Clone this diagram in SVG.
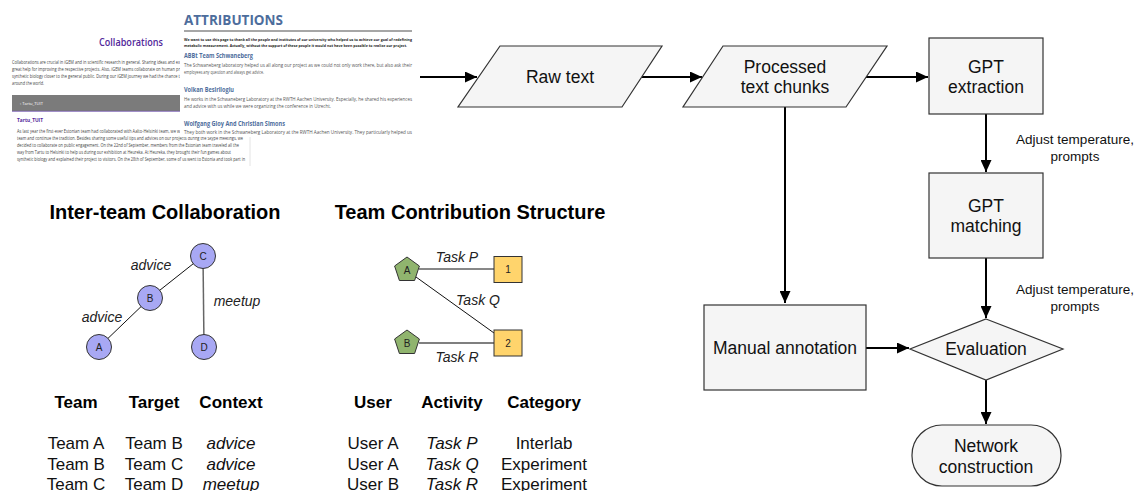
<svg xmlns="http://www.w3.org/2000/svg" width="1136" height="491" viewBox="0 0 1136 491">
<style>
.pg{font-family:"Open Sans","Liberation Sans",sans-serif}
.pb{font-size:4.6px;fill:#444}
.ab{font-size:4.8px;fill:#555}
.ah{font-size:6.2px;font-weight:bold;fill:#4d6d9c}
.fl{font-family:"Liberation Sans",Arial,sans-serif;font-size:17.5px;fill:#111;text-anchor:middle}
.lab{font-family:"Liberation Sans",Arial,sans-serif;font-size:13.5px;fill:#111;text-anchor:middle}
.box{fill:#f5f5f5;stroke:#333;stroke-width:1.2}
.conn{stroke:#000;stroke-width:2;fill:none;marker-end:url(#ah)}
.t{font-family:"Liberation Sans",Arial,sans-serif;fill:#000;text-anchor:middle}
.ttl{font-size:20px;font-weight:bold}
.hd{font-size:17px;font-weight:bold}
.row{font-size:17px;fill:#111}
.it{font-style:italic}
.el{font-family:"Liberation Sans",Arial,sans-serif;font-size:14px;font-style:italic;fill:#222;text-anchor:middle}
.nl{font-family:"Liberation Sans",Arial,sans-serif;font-size:10px;fill:#222;text-anchor:middle}
.cir{fill:#a8a8f4;stroke:#333;stroke-width:1}
.pent{fill:#90b46e;stroke:#333;stroke-width:1}
.sq{fill:#ffd46c;stroke:#333;stroke-width:1}
</style>
<defs>
<marker id="ah" markerUnits="userSpaceOnUse" markerWidth="12" markerHeight="11" viewBox="0 0 12 11" refX="12" refY="5.5" orient="auto">
<path d="M0,0 L12,5.5 L0,11 z" fill="#000"/>
</marker>
</defs>
<rect width="1136" height="491" fill="#fff"/>

<!-- Screenshot page 1: Collaborations -->
<g id="page-collaborations" class="pg">
<rect x="0" y="0" width="250" height="166" fill="#fff"/>
<line x1="250" y1="136" x2="250" y2="166" stroke="#ddd" stroke-width="0.8"/>
<text x="131" y="46" font-size="10.5" font-weight="600" fill="#52289a" text-anchor="middle" textLength="64" lengthAdjust="spacingAndGlyphs">Collaborations</text>
<text class="pb" x="12" y="64" textLength="168" lengthAdjust="spacingAndGlyphs">Collaborations are crucial in iGEM and in scientific research in general. Sharing ideas and ex</text>
<text class="pb" x="12" y="71" textLength="168" lengthAdjust="spacingAndGlyphs">great help for improving the respective projects. Also, iGEM teams collaborate on human pr</text>
<text class="pb" x="12" y="78" textLength="168" lengthAdjust="spacingAndGlyphs">synthetic biology closer to the general public. During our iGEM journey we had the chance t</text>
<text class="pb" x="12" y="85" textLength="32" lengthAdjust="spacingAndGlyphs">around the world.</text>
<rect x="12" y="95" width="168" height="16" fill="#7b7b7b"/>
<line x1="12" y1="111.3" x2="180" y2="111.3" stroke="#6b4fa8" stroke-width="0.8"/>
<text x="20" y="104.5" font-size="3.6" fill="#fff" textLength="23" lengthAdjust="spacingAndGlyphs">› Tartu_TUIT</text>
<text x="17" y="122" font-size="5.6" fill="#52289a" font-weight="bold" textLength="26" lengthAdjust="spacingAndGlyphs">Tartu_TUIT</text>
<text class="pb" x="17" y="132.5" textLength="163" lengthAdjust="spacingAndGlyphs">As last year the first-ever Estonian team had collaborated with Aalto-Helsinki team, we w</text>
<text class="pb" x="17" y="140" textLength="226" lengthAdjust="spacingAndGlyphs">team and continue the tradition. Besides sharing some useful tips and advices on our projects during the Skype meetings, we</text>
<text class="pb" x="17" y="147" textLength="222" lengthAdjust="spacingAndGlyphs">decided to collaborate on public engagement. On the 22nd of September, members from the Estonian team traveled all the</text>
<text class="pb" x="17" y="154" textLength="214" lengthAdjust="spacingAndGlyphs">way from Tartu to Helsinki to help us during our exhibition at Heureka. At Heureka, they brought their fun games about</text>
<text class="pb" x="17" y="161" textLength="228" lengthAdjust="spacingAndGlyphs">synthetic biology and explained their project to visitors. On the 28th of September, some of us went to Estonia and took part in</text>
</g>

<!-- Screenshot page 2: Attributions -->
<g id="page-attributions" class="pg">
<rect x="180" y="0" width="242" height="137" fill="#fff"/>
<text x="184" y="25" font-size="14" font-weight="bold" fill="#4d6d9c" textLength="99" lengthAdjust="spacingAndGlyphs">ATTRIBUTIONS</text>
<line x1="184" y1="31" x2="412" y2="31" stroke="#888" stroke-width="1.4"/>
<text x="184" y="40.5" font-size="4.2" font-weight="bold" fill="#222" textLength="228" lengthAdjust="spacingAndGlyphs">We want to use this page to thank all the people and institutes of our university who helped us to achieve our goal of redefining</text>
<text x="184" y="46.5" font-size="4.2" font-weight="bold" fill="#222" textLength="223" lengthAdjust="spacingAndGlyphs">metabolic measurement. Actually, without the support of these people it would not have been possible to realize our project.</text>
<text class="ah" x="184" y="57.5" textLength="69" lengthAdjust="spacingAndGlyphs">ABBt Team Schwaneberg</text>
<text class="ab" x="184" y="67" textLength="228" lengthAdjust="spacingAndGlyphs">The Schwaneberg laboratory helped us all along our project as we could not only work there, but also ask their</text>
<text class="ab" x="184" y="74" textLength="80" lengthAdjust="spacingAndGlyphs">employees any question and always get advice.</text>
<text class="ah" x="184" y="91.5" textLength="50" lengthAdjust="spacingAndGlyphs">Volkan Besirlioglu</text>
<text class="ab" x="184" y="100.5" textLength="228" lengthAdjust="spacingAndGlyphs">He works in the Schwaneberg Laboratory at the RWTH Aachen University. Especially, he shared his experiences</text>
<text class="ab" x="184" y="108" textLength="147" lengthAdjust="spacingAndGlyphs">and advice with us while we were organizing the conference in Utrecht.</text>
<text class="ah" x="184" y="125.5" textLength="101" lengthAdjust="spacingAndGlyphs">Wolfgang Gloy And Christian Simons</text>
<text class="ab" x="184" y="134" textLength="228" lengthAdjust="spacingAndGlyphs">They both work in the Schwaneberg Laboratory at the RWTH Aachen University. They particularly helped us</text>
</g>

<!-- Inter-team Collaboration -->
<g id="inter-team">
<text class="t ttl" x="165" y="219">Inter-team Collaboration</text>
<g id="it-edges">
<line x1="150" y1="298" x2="203" y2="256" stroke="#111" stroke-width="1"/>
<line x1="99" y1="347" x2="150" y2="298" stroke="#111" stroke-width="1"/>
<line x1="203" y1="256" x2="204" y2="347" stroke="#666" stroke-width="1.5"/>
</g>
<text class="el" x="151" y="270">advice</text>
<text class="el" x="102" y="322">advice</text>
<text class="el" x="237" y="306">meetup</text>
<g id="node-C"><circle class="cir" cx="203" cy="256" r="12.5"/><text class="nl" x="203" y="259.5">C</text></g>
<g id="node-B"><circle class="cir" cx="150" cy="298" r="12.5"/><text class="nl" x="150" y="301.5">B</text></g>
<g id="node-A"><circle class="cir" cx="99" cy="347" r="12.5"/><text class="nl" x="99" y="350.5">A</text></g>
<g id="node-D"><circle class="cir" cx="204" cy="347" r="12.5"/><text class="nl" x="204" y="350.5">D</text></g>
<text class="t hd" x="76" y="408">Team</text>
<text class="t hd" x="154" y="408">Target</text>
<text class="t hd" x="231" y="408">Context</text>
<text class="t row" x="76" y="449">Team A</text>
<text class="t row" x="154" y="449">Team B</text>
<text class="t row it" x="231" y="449">advice</text>
<text class="t row" x="76" y="470">Team B</text>
<text class="t row" x="154" y="470">Team C</text>
<text class="t row it" x="231" y="470">advice</text>
<text class="t row" x="76" y="490">Team C</text>
<text class="t row" x="154" y="490">Team D</text>
<text class="t row it" x="231" y="490">meetup</text>
</g>

<!-- Team Contribution Structure -->
<g id="team-contribution">
<text class="t ttl" x="470" y="219">Team Contribution Structure</text>
<g id="tc-edges">
<line x1="419" y1="269" x2="494" y2="269" stroke="#111" stroke-width="1"/>
<line x1="416" y1="277" x2="494" y2="333" stroke="#111" stroke-width="1"/>
<line x1="419" y1="343" x2="494" y2="343" stroke="#555" stroke-width="1.5"/>
</g>
<text class="el" x="457" y="262">Task P</text>
<text class="el" x="478" y="305">Task Q</text>
<text class="el" x="457" y="362">Task R</text>
<g id="user-A"><polygon class="pent" points="407,257 419.4,266 414.6,280.5 399.4,280.5 394.6,266"/><text class="nl" x="407" y="273.5">A</text></g>
<g id="user-B"><polygon class="pent" points="407,330 419.4,339 414.6,353.5 399.4,353.5 394.6,339"/><text class="nl" x="407" y="346.5">B</text></g>
<g id="task-1"><rect class="sq" x="494" y="256.5" width="28" height="26"/><text class="nl" x="508" y="273">1</text></g>
<g id="task-2"><rect class="sq" x="494" y="330" width="28" height="26"/><text class="nl" x="508" y="346.5">2</text></g>
<text class="t hd" x="373" y="408">User</text>
<text class="t hd" x="452" y="408">Activity</text>
<text class="t hd" x="544" y="408">Category</text>
<text class="t row" x="373" y="449">User A</text>
<text class="t row it" x="452" y="449">Task P</text>
<text class="t row" x="544" y="449">Interlab</text>
<text class="t row" x="373" y="470">User A</text>
<text class="t row it" x="452" y="470">Task Q</text>
<text class="t row" x="544" y="470">Experiment</text>
<text class="t row" x="373" y="490">User B</text>
<text class="t row it" x="452" y="490">Task R</text>
<text class="t row" x="544" y="490">Experiment</text>
</g>

<!-- Flowchart connectors -->
<g id="connectors">
<line class="conn" x1="420" y1="77" x2="477" y2="77"/>
<line class="conn" x1="642" y1="77" x2="702" y2="77"/>
<line class="conn" x1="866" y1="77" x2="928" y2="77"/>
<line class="conn" x1="986" y1="114" x2="986" y2="172"/>
<line class="conn" x1="986" y1="258" x2="986" y2="318"/>
<line class="conn" x1="785" y1="107" x2="785" y2="303"/>
<line class="conn" x1="866" y1="348" x2="909" y2="348"/>
<line class="conn" x1="986" y1="380" x2="986" y2="424"/>
<text class="lab" x="1075" y="144">Adjust temperature,</text>
<text class="lab" x="1075" y="161">prompts</text>
<text class="lab" x="1075" y="294">Adjust temperature,</text>
<text class="lab" x="1075" y="311">prompts</text>
</g>

<!-- Flowchart nodes -->
<g id="raw-text">
<polygon class="box" points="500,46 662,46 622,107 458,107"/>
<text class="fl" x="560" y="83">Raw text</text>
</g>
<g id="processed-text">
<polygon class="box" points="723,46 887,46 846,107 683,107"/>
<text class="fl" x="785" y="73">Processed</text>
<text class="fl" x="785" y="93">text chunks</text>
</g>
<g id="gpt-extraction">
<rect class="box" x="929" y="38" width="114" height="76"/>
<text class="fl" x="986" y="73">GPT</text>
<text class="fl" x="986" y="93">extraction</text>
</g>
<g id="gpt-matching">
<rect class="box" x="929" y="173" width="114" height="85"/>
<text class="fl" x="986" y="212">GPT</text>
<text class="fl" x="986" y="232">matching</text>
</g>
<g id="manual-annotation">
<rect class="box" x="704" y="305" width="162" height="85"/>
<text class="fl" x="785" y="354">Manual annotation</text>
</g>
<g id="evaluation">
<polygon class="box" points="986,319 1063,349 986,380 910,349"/>
<text class="fl" x="986" y="355">Evaluation</text>
</g>
<g id="network-construction">
<rect class="box" x="912" y="425" width="149" height="61" rx="30" ry="30"/>
<text class="fl" x="986" y="452">Network</text>
<text class="fl" x="986" y="473">construction</text>
</g>
</svg>
